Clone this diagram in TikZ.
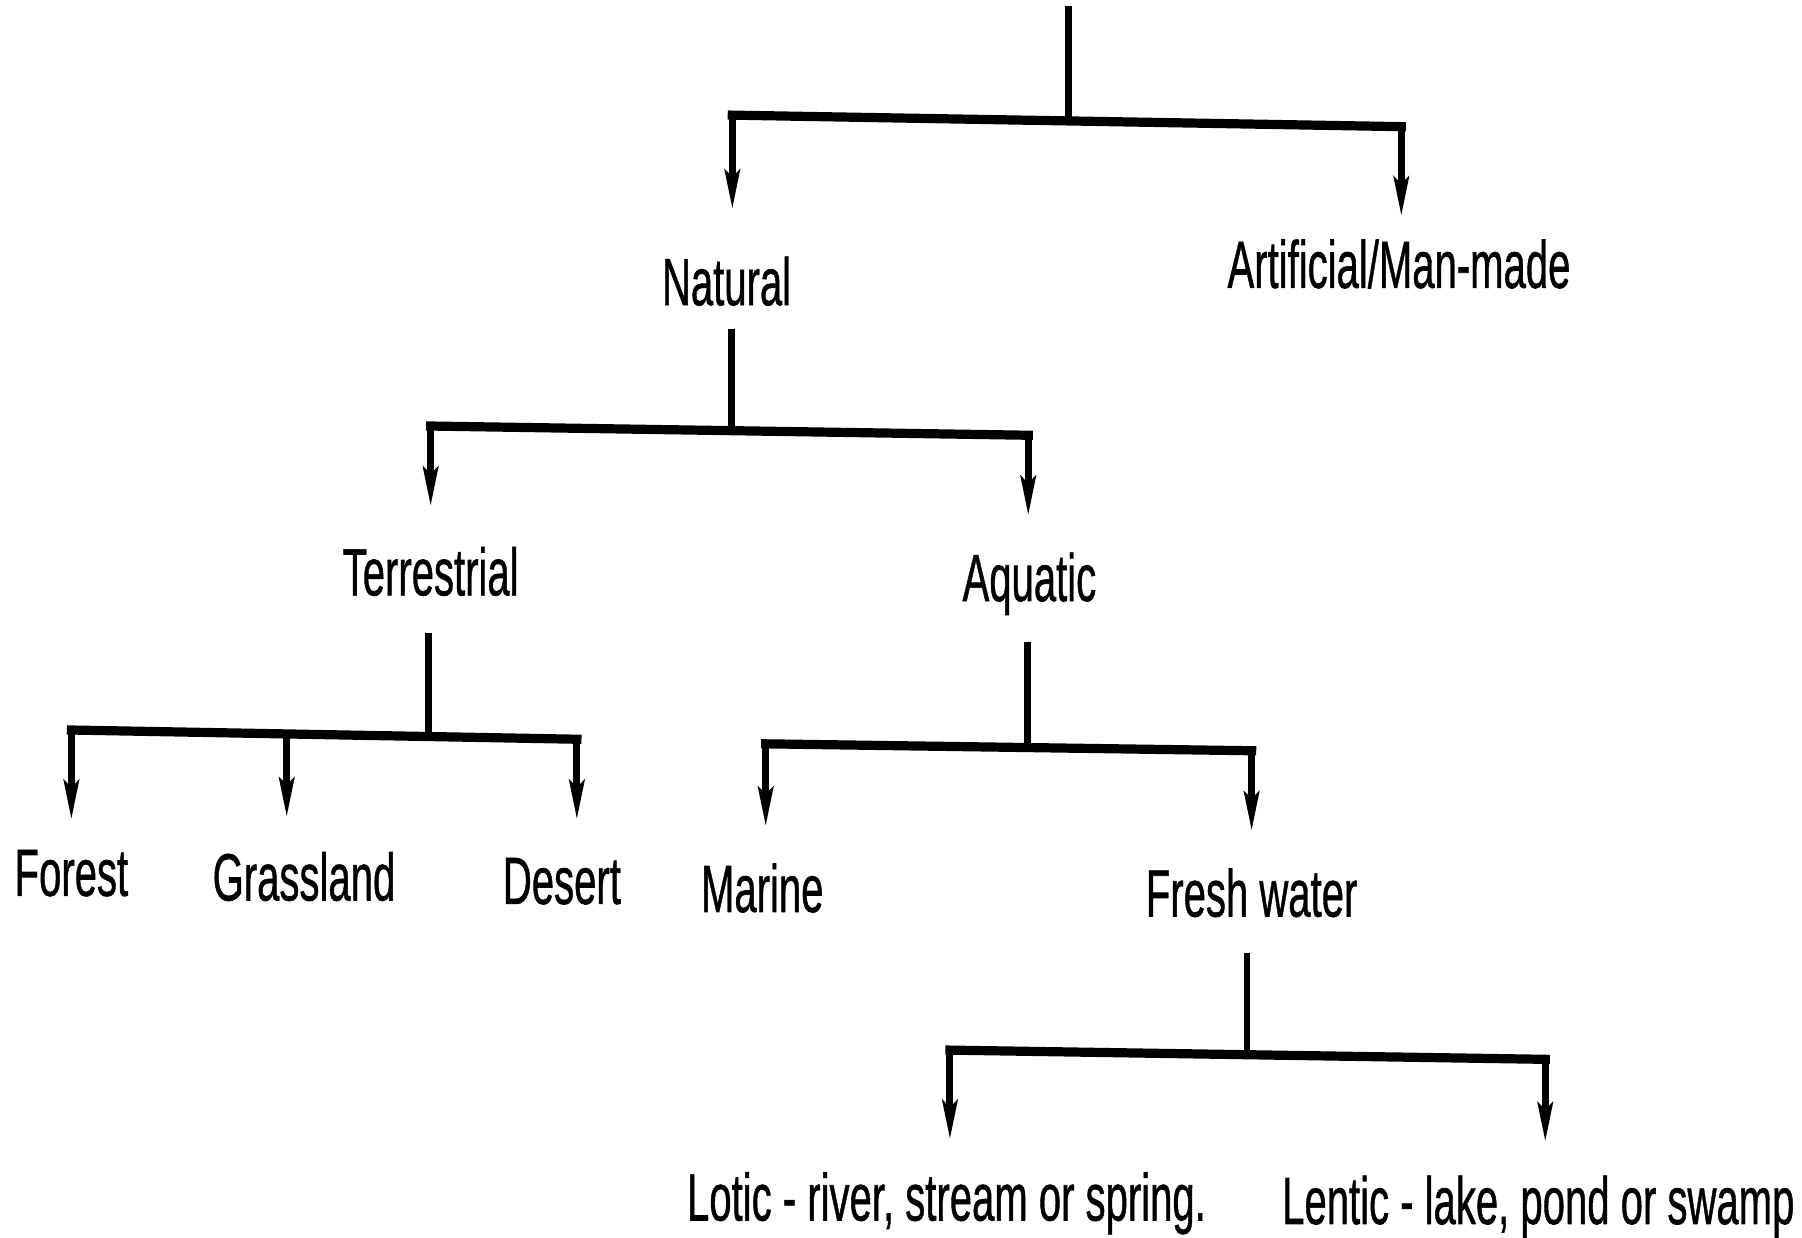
\documentclass[tikz,border=0pt]{standalone}
\usepackage{fontspec}
\setmainfont{Liberation Sans}[FakeBold=1]
\usetikzlibrary{arrows.meta,calc}
\newcommand\cond[1]{\scalebox{0.60}[1]{#1}}
\tikzset{
  lbl/.style={inner sep=0pt, anchor=base, font=\fontsize{58}{62}\selectfont},
  trunk/.style={line width=6pt, line cap=rect},
  barline/.style={line width=8pt, line cap=rect},
  drop/.style={line width=6pt, -{Stealth[length=34pt,width=13pt,inset=6pt]}, shorten >=#1},
}
\begin{document}
\begin{tikzpicture}[x=1pt,y=-1pt]
\useasboundingbox[fill=white] (0,0) rectangle (1565,1075);

% nodes
\node[lbl] (nat) at (631,265) {\cond{Natural}};
\node[lbl] (art) at (1215,250) {\cond{Artificial/Man-made}};
\node[lbl] (ter) at (374,517) {\cond{Terrestrial}};
\node[lbl] (aqu) at (894,522) {\cond{Aquatic}};
\node[lbl] (for) at (62,778) {\cond{Forest}};
\node[lbl] (gra) at (264,782) {\cond{Grassland}};
\node[lbl] (des) at (488,785) {\cond{Desert}};
\node[lbl] (mar) at (662,792) {\cond{Marine}};
\node[lbl] (fre) at (1087,796) {\cond{Fresh water}};
\node[lbl] (lot) at (822,1060) {\cond{Lotic - river, stream or spring.}};
\node[lbl] (len) at (1336,1063) {\cond{Lentic - lake, pond or swamp}};

% level 1
\coordinate (top) at (928,8);
\coordinate (j1) at (928,104);
\coordinate (b1l) at (636,100);
\coordinate (b1r) at (1217,110);
\draw[trunk] (top) -- (j1);
\draw[barline] (b1l) -- (b1r);
\draw[drop=41pt] (b1l) -- (b1l |- nat.north);
\draw[drop=20pt] (b1r) -- (b1r |- art.north);

% level 2
\coordinate (j2) at (635,374);
\coordinate (b2l) at (374,370);
\coordinate (b2r) at (893,378);
\draw[trunk] ([yshift=-23pt]nat.south -| j2) -- (j2);
\draw[barline] (b2l) -- (b2r);
\draw[drop=35pt] (b2l) -- (b2l |- ter.north);
\draw[drop=32pt] (b2r) -- (b2r |- aqu.north);

% level 3 (terrestrial)
\coordinate (j3) at (372,638);
\coordinate (b3l) at (62,634);
\coordinate (b3r) at (501,642);
\coordinate (b3m) at ($(b3l)!0.426!(b3r)$);
\draw[trunk] ([yshift=-35pt]ter.south -| j3) -- (j3);
\draw[barline] (b3l) -- (b3r);
\draw[drop=26pt] (b3l) -- (b3l |- for.north);
\draw[drop=30pt] (b3m) -- (b3m |- gra.north);
\draw[drop=33pt] (b3r) -- (b3r |- des.north);

% level 3 (aquatic)
\coordinate (j4) at (892,649);
\coordinate (b4l) at (665,646);
\coordinate (b4r) at (1087,652);
\draw[trunk] ([yshift=-26pt]aqu.south -| j4) -- (j4);
\draw[barline] (b4l) -- (b4r);
\draw[drop=32pt] (b4l) -- (b4l |- mar.north);
\draw[drop=32pt] (b4r) -- (b4r |- fre.north);

% level 4 (fresh water)
\coordinate (j5) at (1083,916);
\coordinate (b5l) at (825,912);
\coordinate (b5r) at (1342,920);
\draw[trunk] ([yshift=-34pt]fre.south -| j5) -- (j5);
\draw[barline] (b5l) -- (b5r);
\draw[drop=28pt] (b5l) -- (b5l |- lot.north);
\draw[drop=29pt] (b5r) -- (b5r |- len.north);
\end{tikzpicture}
\end{document}
